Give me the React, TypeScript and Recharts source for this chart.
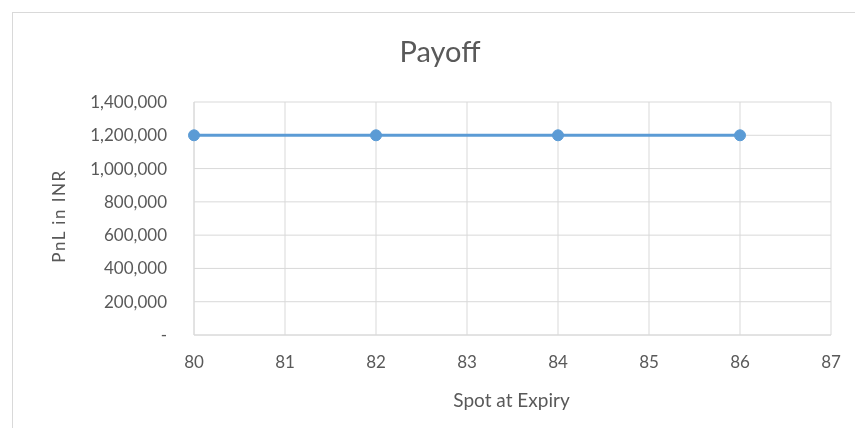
import React from "react";
import { LineChart, Line, XAxis, YAxis, CartesianGrid } from "recharts";

const spotValues = [80, 82, 84, 86];
const pnlValues = [1200000, 1200000, 1200000, 1200000];
const xTicks = [80, 81, 82, 83, 84, 85, 86, 87];
const yTicks = [0, 200000, 400000, 600000, 800000, 1000000, 1200000, 1400000];
const chartTitle = "Payoff";
const xTitle = "Spot at Expiry";
const yTitle = "PnL in INR";

const data = spotValues.map((s, i) => ({ spot: s, pnl: pnlValues[i] }));

const FONT = "Lato, 'Open Sans', sans-serif";
const TEXT = "#595959";
const GRID = "#d9d9d9";

const fmtY = (v: number) => (v === 0 ? "-" : v.toLocaleString("en-US"));

export default function App() {
  return (
    <div style={{ position: "relative", width: 839, height: 412, fontFamily: FONT }}>
      <div
        style={{
          position: "fixed",
          left: 12,
          top: 12,
          width: 1000,
          height: 1000,
          border: `1px solid ${GRID}`,
          boxSizing: "border-box",
          pointerEvents: "none",
        }}
      />
      <LineChart
        width={839}
        height={412}
        data={data}
        margin={{ top: 94, right: 16, bottom: 55, left: 0 }}
      >
        <CartesianGrid stroke={GRID} strokeWidth={1} horizontal vertical />
        <XAxis
          dataKey="spot"
          type="number"
          domain={[80, 87]}
          ticks={xTicks}
          height={30}
          axisLine={{ stroke: GRID }}
          tickLine={false}
          tickSize={0}
          tickMargin={21}
          tick={{ fill: TEXT, fontSize: 17, fontFamily: FONT }}
          interval={0}
        />
        <YAxis
          type="number"
          domain={[0, 1400000]}
          ticks={yTicks}
          width={186}
          axisLine={{ stroke: GRID }}
          tickLine={false}
          tickSize={0}
          tickMargin={27}
          tickFormatter={fmtY}
          tick={{ fill: TEXT, fontSize: 17, fontFamily: FONT }}
          interval={0}
        />
        <Line
          dataKey="pnl"
          stroke="#5B9BD5"
          strokeWidth={3}
          dot={{ r: 5.5, fill: "#5B9BD5", stroke: "#5B9BD5", strokeWidth: 1 }}
          activeDot={false}
          isAnimationActive={false}
        />
      </LineChart>
      <svg
        width={839}
        height={412}
        style={{ position: "absolute", left: 0, top: 0, pointerEvents: "none" }}
      >
        <text x={432} y={54} textAnchor="middle" fill={TEXT} fontSize={29} fontFamily={FONT}>
          {chartTitle}
        </text>
        <text x={503.5} y={399} textAnchor="middle" fill={TEXT} fontSize={19} fontFamily={FONT}>
          {xTitle}
        </text>
        <text
          x={0}
          y={0}
          transform="translate(50,208) rotate(-90)"
          textAnchor="middle"
          dominantBaseline="central"
          fill={TEXT}
          fontSize={17}
          fontFamily={FONT}
          letterSpacing={1.5}
        >
          {yTitle}
        </text>
      </svg>
    </div>
  );
}
